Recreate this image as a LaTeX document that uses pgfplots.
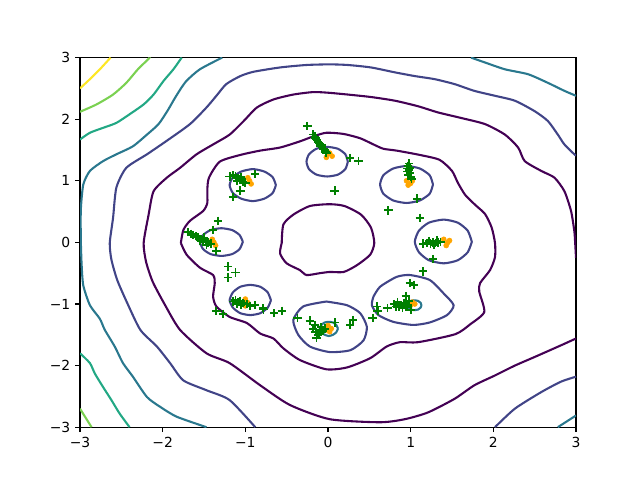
\documentclass[border=0pt]{standalone}
\usepackage{pgfplots}
\pgfplotsset{compat=1.18}
\usepackage{fontspec}
\setmainfont{DejaVu Sans}

\definecolor{vA}{HTML}{440154}
\definecolor{vB}{HTML}{414487}
\definecolor{vC}{HTML}{2A788E}
\definecolor{vD}{HTML}{22A884}
\definecolor{vE}{HTML}{7AD151}
\definecolor{vF}{HTML}{FDE725}
\definecolor{mplgreen}{HTML}{008000}
\definecolor{mplorange}{HTML}{FFA500}

\pgfplotsset{
  lvl/.style={color=#1, line width=1.5pt, mark=none, smooth, tension=0.4},
}

\begin{document}
\begin{tikzpicture}
\path[use as bounding box] (0,0) rectangle (460.8pt,345.6pt);
\begin{axis}[
  at={(57.6pt,38.02pt)}, anchor=south west,
  scale only axis, width=357.12pt, height=266.11pt,
  xmin=-3, xmax=3, ymin=-3, ymax=3,
  xtick={-3,-2,-1,0,1,2,3}, ytick={-3,-2,-1,0,1,2,3},
  xticklabels={−3,−2,−1,0,1,2,3}, yticklabels={−3,−2,−1,0,1,2,3},
  tick align=outside, major tick length=3.5pt,
  tick style={line width=0.8pt, black},
  axis line style={line width=0.8pt},
  ticklabel style={font=\fontsize{10}{12}\selectfont},
  xtick pos=bottom, ytick pos=left,
]
% ---- level 0 (purple) ----
\addplot[lvl=vA] coordinates {
(3.0,-0.25) (2.99,-0.01) (2.98,0.18) (2.94,0.51) (2.86,0.83) (2.74,1.05) (2.58,1.16)
(2.38,1.32) (2.30,1.54) (2.14,1.75) (1.90,1.92) (1.61,2.02) (1.33,2.11) (1.09,2.21)
(0.81,2.30) (0.52,2.36) (0.24,2.40) (0,2.43) (-0.18,2.44) (-0.42,2.40) (-0.66,2.32)
(-0.86,2.19) (-1.02,1.97) (-1.19,1.75) (-1.39,1.59) (-1.59,1.43) (-1.79,1.21)
(-1.95,1.05) (-2.11,0.83) (-2.17,0.45) (-2.23,-0.01) (-2.20,-0.32) (-2.12,-0.64)
(-1.97,-1.02) (-1.79,-1.42) (-1.47,-1.80) (-1.19,-1.96) (-0.82,-2.32) (-0.46,-2.64)
(0.02,-2.87) (0.63,-2.92) (0.93,-2.87) (1.21,-2.76) (1.53,-2.54) (1.77,-2.32)
(2.02,-2.16) (2.26,-2.00) (2.50,-1.86) (2.82,-1.67) (3.0,-1.56)
};
\addplot[lvl=vA] coordinates {
(-1.78,-0.01) (-1.75,0.20) (-1.67,0.35) (-1.51,0.51) (-1.46,0.64) (-1.46,0.85)
(-1.44,1.05) (-1.31,1.31) (-1.06,1.42) (-0.82,1.49) (-0.58,1.54) (-0.34,1.64)
(-0.18,1.72) (-0.02,1.78) (0.19,1.76) (0.39,1.69) (0.55,1.59) (0.67,1.52) (0.83,1.49)
(1.11,1.42) (1.35,1.34) (1.50,1.16) (1.57,0.97) (1.66,0.77) (1.78,0.61) (1.90,0.46)
(1.98,0.24) (2.02,-0.01) (2.02,-0.24) (1.96,-0.45) (1.84,-0.66) (1.83,-0.80)
(1.89,-1.13) (1.72,-1.33) (1.54,-1.49) (1.09,-1.62) (0.87,-1.62) (0.71,-1.69)
(0.51,-1.88) (0.23,-2.03) (-0.02,-2.06) (-0.34,-1.91) (-0.54,-1.72) (-0.66,-1.56)
(-0.82,-1.48) (-0.98,-1.31) (-1.19,-1.21) (-1.35,-1.04) (-1.39,-0.88) (-1.37,-0.66)
(-1.39,-0.53) (-1.55,-0.41) (-1.71,-0.20) (-1.78,-0.01)
};
\addplot[lvl=vA] coordinates {
(-0.56,-0.01) (-0.54,0.29) (-0.42,0.45) (-0.22,0.59) (0.02,0.62) (0.20,0.59)
(0.40,0.45) (0.52,0.24) (0.56,-0.01) (0.51,-0.20) (0.35,-0.37) (0.19,-0.48)
(0.02,-0.48) (-0.10,-0.50) (-0.26,-0.53) (-0.34,-0.45) (-0.50,-0.34) (-0.58,-0.18)
(-0.56,-0.01)
};
% ---- level 1 (blue) ----
\addplot[lvl=vB] coordinates {
(-0.88,-3.0) (-1.19,-2.56) (-1.47,-2.40) (-1.75,-2.24) (-1.91,-1.96) (-2.07,-1.69)
(-2.27,-1.42) (-2.43,-0.98) (-2.55,-0.61) (-2.62,-0.28) (-2.64,-0.01) (-2.60,0.40)
(-2.56,0.89) (-2.44,1.21) (-2.19,1.43) (-1.95,1.65) (-1.67,1.92) (-1.47,2.19)
(-1.35,2.38) (-1.23,2.57) (-1.06,2.70) (-0.90,2.77) (-0.58,2.84) (-0.26,2.88)
(0.02,2.89) (0.24,2.88) (0.52,2.84) (0.81,2.76) (1.05,2.70) (1.29,2.65) (1.53,2.57)
(1.77,2.46) (2.02,2.38) (2.26,2.30) (2.50,2.13) (2.66,1.97) (2.78,1.75) (2.86,1.59)
(2.98,1.43) (3.0,1.41)
};
\addplot[lvl=vB] coordinates {
(2.02,-3.0) (2.26,-2.70) (2.58,-2.43) (2.82,-2.26) (3.0,-2.18)
};
% top mode
\addplot[lvl=vB] coordinates {
(0.24,1.31) (0.21,1.43) (0.12,1.52) (-0.01,1.55) (-0.14,1.52) (-0.23,1.43) (-0.26,1.31)
(-0.23,1.19) (-0.14,1.10) (-0.01,1.07) (0.12,1.10) (0.21,1.19) (0.24,1.31)
};
% upper right mode
\addplot[lvl=vB] coordinates {
(1.27,0.94) (1.23,1.09) (1.11,1.20) (0.95,1.24) (0.79,1.20) (0.67,1.09) (0.63,0.94)
(0.67,0.79) (0.79,0.68) (0.95,0.64) (1.11,0.68) (1.23,0.79) (1.27,0.94)
};
% right mode
\addplot[lvl=vB] coordinates {
(1.74,0.01) (1.69,0.19) (1.57,0.32) (1.40,0.37) (1.22,0.32) (1.10,0.19) (1.05,0.01)
(1.10,-0.16) (1.22,-0.29) (1.40,-0.34) (1.57,-0.29) (1.69,-0.16) (1.74,0.01)
};
% lower right mode
\addplot[lvl=vB] coordinates {
(0.55,-0.88) (0.63,-0.72) (0.83,-0.56) (0.99,-0.53) (1.23,-0.61) (1.40,-0.83)
(1.52,-1.02) (1.44,-1.18) (1.23,-1.30) (1.03,-1.34) (0.79,-1.29) (0.61,-1.18)
(0.53,-1.02) (0.55,-0.88)
};
% bottom mode
\addplot[lvl=vB] coordinates {
(-0.02,-0.96) (0.23,-1.02) (0.39,-1.15) (0.47,-1.37) (0.43,-1.59) (0.27,-1.75)
(0.02,-1.78) (-0.22,-1.69) (-0.36,-1.50) (-0.42,-1.26) (-0.30,-1.04) (-0.02,-0.96)
};
% lower left mode
\addplot[lvl=vB] coordinates {
(-0.69,-0.94) (-0.73,-0.81) (-0.82,-0.72) (-0.94,-0.69) (-1.06,-0.72) (-1.15,-0.81)
(-1.19,-0.94) (-1.15,-1.06) (-1.06,-1.15) (-0.94,-1.18) (-0.82,-1.15) (-0.73,-1.06)
(-0.69,-0.94)
};
% left mode
\addplot[lvl=vB] coordinates {
(-1.03,0.01) (-1.07,0.12) (-1.16,0.20) (-1.29,0.23) (-1.42,0.20) (-1.51,0.12)
(-1.55,0.01) (-1.51,-0.11) (-1.42,-0.19) (-1.29,-0.22) (-1.16,-0.19) (-1.07,-0.11)
(-1.03,0.01)
};
% upper left mode
\addplot[lvl=vB] coordinates {
(-0.63,0.93) (-0.67,1.06) (-0.77,1.15) (-0.91,1.19) (-1.05,1.15) (-1.15,1.06)
(-1.19,0.93) (-1.15,0.80) (-1.05,0.71) (-0.91,0.67) (-0.77,0.71) (-0.67,0.80)
(-0.63,0.93)
};
% ---- level 2 (teal) ----
\addplot[lvl=vC] coordinates {
(-1.28,3.0) (-1.55,2.81) (-1.72,2.61) (-1.84,2.37) (-1.94,2.14) (-2.05,1.92)
(-2.19,1.75) (-2.36,1.56) (-2.56,1.43) (-2.72,1.32) (-2.88,1.16) (-2.96,0.94)
(-2.99,0.53) (-2.99,0.04) (-2.98,-0.37) (-2.96,-0.70) (-2.88,-1.02) (-2.76,-1.24)
(-2.70,-1.42) (-2.58,-1.69) (-2.48,-1.96) (-2.36,-2.18) (-2.19,-2.51) (-2.03,-2.67)
(-1.83,-2.83) (-1.47,-3.0)
};
\addplot[lvl=vC] coordinates {
(1.73,3.0) (1.90,2.92) (2.14,2.81) (2.42,2.73) (2.66,2.59) (2.86,2.46) (3.0,2.38)
};
\addplot[lvl=vC] coordinates {(2.78,-3.0) (3.0,-2.81)};
\addplot[lvl=vC] coordinates {
(1.13,-1.02) (1.12,-0.98) (1.09,-0.95) (1.04,-0.94) (1.00,-0.95) (0.96,-0.98)
(0.95,-1.02) (0.96,-1.06) (1.00,-1.09) (1.04,-1.10) (1.09,-1.09) (1.12,-1.06)
(1.13,-1.02)
};
\addplot[lvl=vC] coordinates {
(0.12,-1.40) (0.10,-1.34) (0.06,-1.30) (0.01,-1.29) (-0.04,-1.30) (-0.08,-1.34)
(-0.10,-1.40) (-0.08,-1.46) (-0.04,-1.50) (0.01,-1.52) (0.06,-1.50) (0.10,-1.46)
(0.12,-1.40)
};
% ---- level 3 (green teal) ----
\addplot[lvl=vD] coordinates {
(-3,1.67) (-2.88,1.78) (-2.72,1.86) (-2.56,1.94) (-2.40,2.08) (-2.23,2.24)
(-2.11,2.40) (-1.99,2.62) (-1.87,2.81) (-1.77,3.0)
};
\addplot[lvl=vD] coordinates {
(-3,-1.80) (-2.88,-1.96) (-2.82,-2.13) (-2.72,-2.35) (-2.62,-2.56) (-2.52,-2.78) (-2.40,-3.0)
};
% ---- level 4 (light green) ----
\addplot[lvl=vE] coordinates {
(-3,2.12) (-2.80,2.24) (-2.60,2.40) (-2.44,2.59) (-2.30,2.81) (-2.17,2.98) (-2.16,3.0)
};
\addplot[lvl=vE] coordinates {(-3,-2.70) (-2.86,-3.0)};
% ---- level 5 (yellow) ----
\addplot[lvl=vF] coordinates {(-3,2.50) (-2.88,2.65) (-2.76,2.81) (-2.63,3.0)};

% ---- real samples (orange) ----
\addplot[only marks, mark=*, mark size=1.8pt, color=mplorange, mark options={draw=none, fill=mplorange}] coordinates {
(0.0,1.44) (0.05,1.40) (-0.02,1.38) (0.02,1.45)
(0.95,1.0) (1.0,0.96) (0.97,0.93) (1.02,1.0)
(1.40,0.05) (1.45,0.0) (1.43,-0.05) (1.47,0.03)
(1.02,-0.97) (1.05,-1.0) (1.0,-1.02)
(0.0,-1.35) (0.04,-1.40) (0.02,-1.45) (-0.02,-1.42)
(-1.0,-0.92) (-0.97,-0.98) (-1.0,-1.03)
(-1.40,0.05) (-1.38,0.0) (-1.36,-0.05)
(-0.97,1.05) (-0.95,1.0) (-0.93,0.95)
};
% ---- generated samples (green +) ----
\addplot[only marks, mark=+, mark size=3pt, line width=1.3pt, color=mplgreen] coordinates {
(-0.25,1.89) (0.27,1.37) (0.37,1.32) (0.08,0.84)
(-0.18,1.75) (-0.16,1.72) (-0.15,1.69) (-0.13,1.66) (-0.12,1.63) (-0.10,1.60)
(-0.09,1.57) (-0.07,1.55) (-0.06,1.52) (-0.04,1.50) (-0.03,1.47) (-0.02,1.45)
(-0.11,1.62) (-0.08,1.58) (-0.14,1.67) (-0.05,1.51)
(0.98,1.28) (0.97,1.24) (0.96,1.20) (0.98,1.17) (0.99,1.13) (0.97,1.10) (1.00,1.06)
(1.01,1.03) (0.96,1.15) (0.99,1.21)
(1.08,0.71) (0.73,0.52) (1.11,0.40)
(1.15,-0.02) (1.20,-0.01) (1.24,-0.02) (1.27,0.0) (1.30,-0.01) (1.33,0.0) (1.36,0.01)
(1.28,-0.04) (1.22,0.02) (1.32,0.03)
(1.27,-0.27) (1.15,-0.47) (0.99,-0.66) (1.04,-0.69)
(0.94,-0.87) (0.80,-1.0) (0.84,-0.97) (0.88,-1.02) (0.92,-0.98) (0.96,-1.01)
(0.90,-1.07) (0.86,-1.05) (0.94,-1.05) (0.98,-0.95) (0.82,-1.04) (1.0,-1.10)
(0.72,-1.07) (0.59,-1.04) (0.60,-1.11) (0.54,-1.23)
(-0.79,-1.07) (-0.65,-1.15) (-0.56,-1.11) (-0.37,-1.23) (-0.22,-1.27) (-0.16,-1.34)
(-0.18,-1.40) (-0.15,-1.45) (-0.12,-1.50) (-0.14,-1.55) (-0.10,-1.42) (-0.06,-1.44)
(-0.08,-1.38) (-0.04,-1.40) (-0.11,-1.47) (0.08,-1.30) (0.27,-1.34) (0.30,-1.26)
(-1.21,-0.39) (-1.12,-0.49) (-1.21,-0.57) (-1.15,-0.96) (-1.12,-0.94) (-1.09,-0.97)
(-1.06,-0.95) (-1.03,-0.98) (-1.10,-1.0) (-1.05,-1.02) (-0.98,-1.0) (-0.94,-1.03)
(-0.88,-1.02) (-0.78,-1.09) (-1.35,-1.11) (-1.27,-1.16)
(-1.33,0.35) (-1.39,0.20) (-1.69,0.17) (-1.66,0.14) (-1.63,0.12) (-1.60,0.10)
(-1.57,0.08) (-1.54,0.06) (-1.51,0.04) (-1.48,0.02) (-1.45,0.0) (-1.42,-0.02)
(-1.55,0.03) (-1.50,0.08) (-1.47,-0.04) (-1.35,-0.14)
(-1.19,1.07) (-1.15,1.09) (-1.12,1.07) (-1.09,1.04) (-1.06,1.02) (-1.03,0.99)
(-1.00,0.97) (-1.10,1.0) (-1.05,1.06) (-0.88,1.11) (-1.06,0.84) (-1.15,0.74)
};
\end{axis}
\end{tikzpicture}
\end{document}
